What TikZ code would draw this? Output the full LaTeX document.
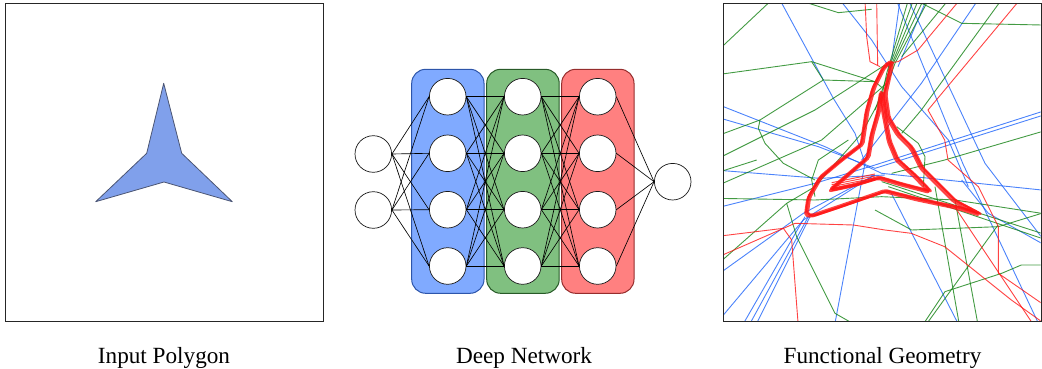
\documentclass[tikz,border=0pt]{standalone}
\usepackage{fontspec}
\setmainfont{Liberation Serif}
\definecolor{polyfill}{RGB}{128,160,235}
\definecolor{polyedge}{RGB}{75,85,115}
\definecolor{bfill}{RGB}{128,170,255}
\definecolor{bedge}{RGB}{45,85,170}
\definecolor{gfill}{RGB}{128,192,128}
\definecolor{gedge}{RGB}{40,90,40}
\definecolor{rfill}{RGB}{255,128,128}
\definecolor{redge}{RGB}{150,45,45}
\definecolor{lblue}{RGB}{30,100,250}
\definecolor{lgreen}{RGB}{20,130,20}
\definecolor{lred}{RGB}{255,20,20}
\begin{document}
\begin{tikzpicture}[x=1pt,y=-1pt,
  neuron/.style={circle,draw=black!90,fill=white,line width=0.7pt,minimum size=36.6pt,inner sep=0pt},
  layerbox/.style={rounded corners=14pt,line width=1pt},
  conn/.style={line width=0.65pt,black},
  panel/.style={draw=black!85,line width=1pt},
  captext/.style={font=\fontsize{23.2}{27}\selectfont,anchor=base},
  bline/.style={line width=0.9pt,draw=lblue,opacity=0.8},
  gline/.style={line width=0.9pt,draw=lgreen,opacity=0.8},
  rline/.style={line width=0.9pt,draw=lred,opacity=0.8},
  rthick/.style={line width=2.2pt,draw=lred,opacity=0.8,rounded corners=2pt,line join=round}
]
\useasboundingbox (0,0) rectangle (1042,369);

% ---------- left panel ----------
\draw[panel] (5,4) rectangle (323,321);
\draw[fill=polyfill,draw=polyedge,line width=0.8pt,line join=round]
  (163.7,83.3) -- (181.7,153.3) -- (232.3,201.7) -- (164,182) -- (95.7,201.7) -- (146.7,153.3) -- cycle;

% ---------- network ----------
\draw[layerbox,draw=bedge,fill=bfill] (411.7,69.3) rectangle (484,293.3);
\draw[layerbox,draw=gedge,fill=gfill] (486.7,69.3) rectangle (559.2,293.3);
\draw[layerbox,draw=redge,fill=rfill] (561.7,69.3) rectangle (634,293.3);

\node[neuron] (i1) at (373.3,154) {};
\node[neuron] (i2) at (373.3,210) {};
\foreach \L/\X in {a/447.7,b/522.7,c/597.7}{
  \foreach \k/\Y in {1/96.7,2/153.3,3/209.7,4/266}{
    \node[neuron] (\L\k) at (\X,\Y) {};
  }
}
\node[neuron] (o) at (672.7,181.7) {};

\foreach \i in {1,2}{\foreach \j in {1,...,4}{\draw[conn] (i\i.east) -- (a\j.west);}}
\foreach \i in {1,...,4}{\foreach \j in {1,...,4}{
  \draw[conn] (a\i.east) -- (b\j.west);
  \draw[conn] (b\i.east) -- (c\j.west);}}
\foreach \i in {1,...,4}{\draw[conn] (c\i.east) -- (o.west);}

% ---------- right panel ----------
\begin{scope}[xshift=715pt,x=0.33333pt,y=-0.33333pt]
\clip (24,12) rectangle (977,962);
% blue
\draw[bline] (195,0) -- (355,295) -- (420,400) -- (450,490) -- (358,980);
\draw[bline] (0,310) -- (330,440) -- (500,520) -- (980,570);
\draw[bline] (0,350) -- (310,440) -- (480,505);
\draw[bline] (0,510) -- (315,535) -- (510,525);
\draw[bline] (0,625) -- (300,550) -- (480,495) -- (980,335);
\draw[bline] (480,505) -- (980,347);
\draw[bline] (0,830) -- (265,640) -- (480,525);
\draw[bline] (0,975) -- (265,660) -- (470,530);
\draw[bline] (80,980) -- (270,650);
\draw[bline] (100,980) -- (280,650);
\draw[bline] (120,980) -- (285,650);
\draw[bline] (544,0) -- (744,492) -- (975,980);
\draw[bline] (580,0) -- (810,490) -- (980,712);
\draw[bline] (555,0) -- (530,180);
\draw[bline] (634,0) -- (549,200);
\draw[bline] (789,0) -- (619,250) -- (440,480);
\draw[bline] (375,0) -- (470,120) -- (560,260) -- (700,420) -- (760,560);
\draw[bline] (529,580) -- (734,980);
\draw[bline] (740,540) -- (820,640) -- (980,730);
% green
\draw[gline] (0,160) -- (170,0);
\draw[gline] (0,225) -- (290,185) -- (480,245) -- (500,262);
\draw[gline] (290,185) -- (325,240) -- (480,245);
\draw[gline] (325,240) -- (135,360) -- (130,385) -- (150,430) -- (205,490) -- (300,540);
\draw[gline] (0,410) -- (135,360);
\draw[gline] (0,480) -- (300,330) -- (510,195);
\draw[gline] (0,560) -- (320,420) -- (515,250);
\draw[gline] (0,595) -- (300,600) -- (500,590) -- (720,600) -- (980,640);
\draw[gline] (0,800) -- (215,610) -- (300,560) -- (440,400) -- (500,290) -- (515,220) -- (580,0);
\draw[gline] (595,0) -- (520,210);
\draw[gline] (610,0) -- (525,205) -- (480,330);
\draw[gline] (625,0) -- (530,200);
\draw[gline] (640,0) -- (540,190) -- (500,300);
\draw[gline] (700,0) -- (560,170);
\draw[gline] (250,0) -- (370,38) -- (470,28);
\draw[gline] (600,0) -- (740,70) -- (980,75);
\draw[gline] (980,395) -- (689,480) -- (530,520);
\draw[gline] (980,640) -- (850,680) -- (590,690) -- (480,630);
\draw[gline] (980,795) -- (919,795) -- (860,820) -- (690,875) -- (620,980);
\draw[gline] (215,610) -- (245,710) -- (360,940) -- (430,980);
\draw[gline] (660,560) -- (734,980);
\draw[gline] (720,600) -- (790,980);
\draw[gline] (849,675) -- (629,980);
\draw[gline] (500,545) -- (980,700);
\draw[gline] (520,560) -- (980,715);
\draw[gline] (859,0) -- (619,330) -- (560,400);
\draw[gline] (545,380) -- (610,430) -- (630,470) -- (625,560);
\draw[gline] (400,420) -- (310,480) -- (290,540) -- (300,590);
\draw[gline] (0,520) -- (125,480);
% red thin
\draw[rline] (450,0) -- (455,110) -- (465,185) -- (495,200);
\draw[rline] (485,0) -- (488,195);
\draw[rline] (734,0) -- (609,150) -- (549,185) -- (510,190);
\draw[rline] (914,0) -- (639,330) -- (689,420) -- (699,480) -- (790,560) -- (850,680) -- (850,820) -- (980,910);
\draw[rline] (0,710) -- (205,685) -- (230,720) -- (250,980);
\draw[rline] (0,775) -- (240,670) -- (415,675) -- (510,690) -- (589,700) -- (689,740) -- (789,820) -- (889,900) -- (980,965);
\draw[rline] (719,620) -- (959,980);
\foreach \d in {0,6,12,18}{\draw[rline] (350,566-\d) -- (480,540-\d);}
% red thick contours
\foreach \sx/\sy in {0/0,5/3,-3/6}{
\draw[rthick,shift={(\sx,\sy)}] (527,182) -- (505,200) -- (475,260) -- (455,330) -- (440,430) -- (375,480) -- (315,530) -- (280,590) -- (273,640) -- (290,645) -- (365,620) -- (510,570) -- (609,595) -- (729,620) -- (795,640) -- (719,600) -- (619,500) -- (589,440) -- (549,400) -- (519,350) -- (509,280) -- (529,190) -- cycle;
\draw[rthick,shift={(\sx,\sy)}] (498,272) -- (490,330) -- (470,400) -- (458,470) -- (400,520) -- (345,568) -- (420,552) -- (492,530) -- (560,550) -- (645,572) -- (600,525) -- (545,475) -- (522,420) -- (505,330) -- cycle;
}
\end{scope}
\draw[panel] (723,4) rectangle (1041,321);

% ---------- captions ----------
\node[captext] (c1) at (164,363) {Input Polygon};
\node[captext] (c2) at (524,363) {Deep Network};
\node[captext] (c3) at (882.5,363) {Functional Geometry};
\end{tikzpicture}
\end{document}
